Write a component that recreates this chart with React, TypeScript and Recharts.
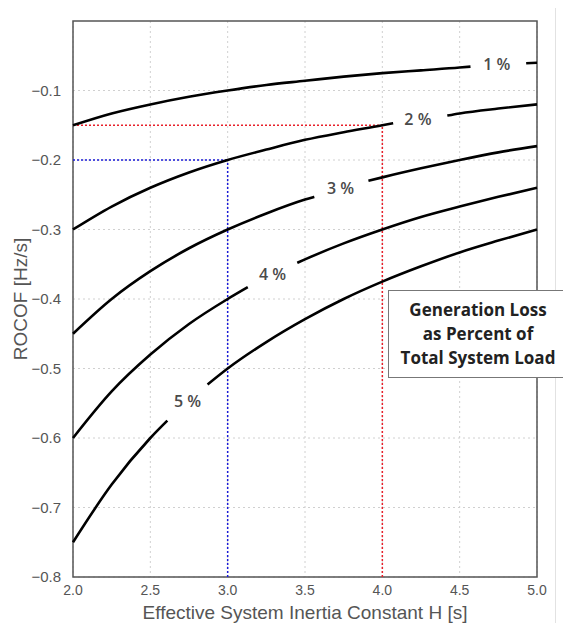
import React from 'react';
import { LineChart, Line, XAxis, YAxis, CartesianGrid, ReferenceLine, ReferenceDot, ReferenceArea } from 'recharts';

const xTicks = [2.0, 2.5, 3.0, 3.5, 4.0, 4.5, 5.0];
const yTicks = [-0.8, -0.7, -0.6, -0.5, -0.4, -0.3, -0.2, -0.1];

const curve1 = [
  { h: 2.0, v: -0.15 }, { h: 2.25, v: -0.133 }, { h: 2.5, v: -0.12 }, { h: 2.75, v: -0.109 },
  { h: 3.0, v: -0.1 }, { h: 3.25, v: -0.092 }, { h: 3.5, v: -0.086 }, { h: 3.75, v: -0.08 },
  { h: 4.0, v: -0.075 }, { h: 4.25, v: -0.071 }, { h: 4.5, v: -0.067 }, { h: 4.57, v: -0.0656 },
  { h: 4.75, v: null }, { h: 4.93, v: -0.0609 }, { h: 5.0, v: -0.06 },
];
const curve2 = [
  { h: 2.0, v: -0.3 }, { h: 2.25, v: -0.267 }, { h: 2.5, v: -0.24 }, { h: 2.75, v: -0.218 },
  { h: 3.0, v: -0.2 }, { h: 3.25, v: -0.185 }, { h: 3.5, v: -0.171 }, { h: 3.75, v: -0.16 },
  { h: 4.0, v: -0.15 }, { h: 4.07, v: -0.147 }, { h: 4.23, v: null }, { h: 4.42, v: -0.136 },
  { h: 4.5, v: -0.133 }, { h: 4.75, v: -0.126 }, { h: 5.0, v: -0.12 },
];
const curve3 = [
  { h: 2.0, v: -0.45 }, { h: 2.25, v: -0.4 }, { h: 2.5, v: -0.36 }, { h: 2.75, v: -0.327 },
  { h: 3.0, v: -0.3 }, { h: 3.25, v: -0.277 }, { h: 3.5, v: -0.257 }, { h: 3.56, v: -0.253 },
  { h: 3.73, v: null }, { h: 3.91, v: -0.23 }, { h: 4.0, v: -0.225 }, { h: 4.25, v: -0.212 },
  { h: 4.5, v: -0.2 }, { h: 4.75, v: -0.189 }, { h: 5.0, v: -0.18 },
];
const curve4 = [
  { h: 2.0, v: -0.6 }, { h: 2.25, v: -0.533 }, { h: 2.5, v: -0.48 }, { h: 2.75, v: -0.436 },
  { h: 3.0, v: -0.4 }, { h: 3.13, v: -0.383 }, { h: 3.29, v: null }, { h: 3.45, v: -0.348 },
  { h: 3.5, v: -0.343 }, { h: 3.75, v: -0.32 }, { h: 4.0, v: -0.3 }, { h: 4.25, v: -0.282 },
  { h: 4.5, v: -0.267 }, { h: 4.75, v: -0.253 }, { h: 5.0, v: -0.24 },
];
const curve5 = [
  { h: 2.0, v: -0.75 }, { h: 2.25, v: -0.667 }, { h: 2.5, v: -0.6 }, { h: 2.61, v: -0.575 },
  { h: 2.74, v: null }, { h: 2.87, v: -0.523 }, { h: 3.0, v: -0.5 }, { h: 3.25, v: -0.462 },
  { h: 3.5, v: -0.429 }, { h: 3.75, v: -0.4 }, { h: 4.0, v: -0.375 }, { h: 4.25, v: -0.353 },
  { h: 4.5, v: -0.333 }, { h: 4.75, v: -0.316 }, { h: 5.0, v: -0.3 },
];

const curveLabels = ['1 %', '2 %', '3 %', '4 %', '5 %'];
const labelH = [4.74, 4.23, 3.73, 3.29, 2.74];
const labelV = [-0.063, -0.142, -0.241, -0.365, -0.547];

const curves = [curve1, curve2, curve3, curve4, curve5];

const fmtMinus = (v: number) => (v < 0 ? '\u2212' + Math.abs(v).toFixed(1) : v.toFixed(1));

const FONT = 'Liberation Sans, Arial, sans-serif';

export default function App() {
  return (
    <div style={{ position: 'absolute', left: 0, top: 0, width: 563, height: 623, background: '#fff', overflow: 'hidden', fontFamily: FONT }}>
      <div style={{ position: 'absolute', left: 555, top: 8, width: 1, height: 615, background: '#e2e2e2' }} />
      <LineChart width={563} height={623} margin={{ top: 21, right: 26, bottom: 0, left: 13 }}>
        <CartesianGrid stroke="#d0d0d0" strokeDasharray="2 3" horizontalValues={yTicks} verticalValues={xTicks} />
        <XAxis
          dataKey="h"
          type="number"
          domain={[2, 5]}
          ticks={xTicks}
          allowDuplicatedCategory={false}
          tickFormatter={(v: number) => v.toFixed(1)}
          tickLine={false}
          axisLine={false}
          height={46}
          tick={{ fill: '#555', fontSize: 14, fontFamily: FONT }}
          tickMargin={2}
          label={{ value: 'Effective System Inertia Constant H [s]', position: 'insideBottom', offset: 4, fill: '#555', fontSize: 19, fontFamily: FONT }}
        />
        <YAxis
          type="number"
          domain={[-0.8, 0]}
          ticks={yTicks}
          tickFormatter={fmtMinus}
          tickLine={false}
          axisLine={false}
          width={60}
          tickMargin={6}
          tick={{ fill: '#555', fontSize: 15, fontFamily: FONT }}
          label={{ value: 'ROCOF [Hz/s]', angle: -90, position: 'insideLeft', offset: 7, fill: '#555', fontSize: 19, fontFamily: FONT, style: { textAnchor: 'middle' } }}
        />
        <ReferenceLine segment={[{ x: 2, y: -0.15 }, { x: 4, y: -0.15 }]} stroke="#e8202a" strokeWidth={1.5} strokeDasharray="2 2" />
        <ReferenceLine segment={[{ x: 4, y: -0.8 }, { x: 4, y: -0.15 }]} stroke="#e8202a" strokeWidth={1.5} strokeDasharray="2 2" />
        <ReferenceLine segment={[{ x: 2, y: -0.2 }, { x: 3, y: -0.2 }]} stroke="#1a1ad8" strokeWidth={1.5} strokeDasharray="2 2" />
        <ReferenceLine segment={[{ x: 3, y: -0.8 }, { x: 3, y: -0.2 }]} stroke="#1a1ad8" strokeWidth={1.5} strokeDasharray="2 2" />
        {curves.map((c, i) => (
          <Line
            key={i}
            data={c}
            dataKey="v"
            type="monotone"
            stroke="#000"
            strokeWidth={2.6}
            dot={false}
            activeDot={false}
            connectNulls={false}
            isAnimationActive={false}
          />
        ))}
        {curveLabels.map((t, i) => (
          <ReferenceDot
            key={t}
            x={labelH[i]}
            y={labelV[i]}
            r={0}
            fill="none"
            stroke="none"
            label={{ value: t, position: 'center', fill: '#4a4a4a', fontSize: 16, fontWeight: 600, fontFamily: 'Open Sans, sans-serif' }}
          />
        ))}
        <ReferenceArea x1={2} x2={5} y1={-0.8} y2={0} fill="none" stroke="#555" strokeWidth={1.5} />
      </LineChart>
      <div
        style={{
          position: 'absolute',
          left: 388,
          top: 290,
          width: 180,
          height: 88,
          boxSizing: 'border-box',
          border: '1.5px solid #777',
          background: '#fff',
          display: 'flex',
          flexDirection: 'column',
          justifyContent: 'center',
          alignItems: 'center',
          fontFamily: 'Open Sans, sans-serif',
          fontWeight: 700,
          fontSize: 17,
          lineHeight: '24px',
          color: '#222',
          textAlign: 'center',
        }}
      >
        <div>Generation Loss</div>
        <div>as Percent of</div>
        <div>Total System Load</div>
      </div>
    </div>
  );
}
